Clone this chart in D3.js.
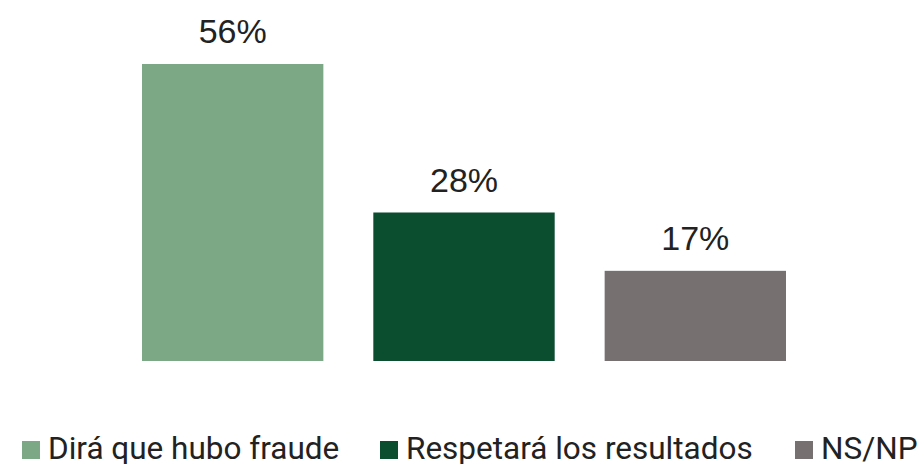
<!DOCTYPE html>
<html>
<head>
<meta charset="utf-8">
<script src="https://cdn.jsdelivr.net/npm/d3@7"></script>
<style>
  body { margin: 0; background: #fff; }
  .label { font-family: "Liberation Sans", Arial, sans-serif; font-size: 34px; fill: #222; }
  .legend text { font-family: Roboto, sans-serif; font-size: 31.5px; fill: #222; }
</style>
</head>
<body>
<svg id="chart"></svg>
<script>
var categories = ["Dirá que hubo fraude", "Respetará los resultados", "NS/NP"]
var values = [56, 28, 17]
var colors = ["#7da886", "#0b4d2f", "#767170"]
var legendX = [22, 380, 795]

var width = 921, height = 464
var svg = d3.select("#chart").attr("width", width).attr("height", height)

var x = d3.scaleBand().domain(categories).range([142, 786]).paddingInner(0.216).paddingOuter(0)
var y = d3.scaleLinear().domain([0, 56]).range([361, 64])

var g = svg.append("g")

g.selectAll(".bar").data(values)
  .enter().append("rect")
  .attr("class", "bar")
  .attr("x", function (d, i) { return x(categories[i]) })
  .attr("y", function (d) { return y(d) })
  .attr("width", x.bandwidth())
  .attr("height", function (d) { return y(0) - y(d) })
  .attr("fill", function (d, i) { return colors[i] })

g.selectAll(".label").data(values)
  .enter().append("text")
  .attr("class", "label")
  .attr("x", function (d, i) { return x(categories[i]) + x.bandwidth() / 2 })
  .attr("y", function (d) { return y(d) - 21 })
  .attr("text-anchor", "middle")
  .text(function (d) { return d + "%" })

var legend = svg.append("g").attr("class", "legend")
var items = legend.selectAll("g").data(categories)
  .enter().append("g")
  .attr("transform", function (d, i) { return "translate(" + legendX[i] + ",0)" })
items.append("rect")
  .attr("x", 0).attr("y", 441).attr("width", 18).attr("height", 18)
  .attr("fill", function (d, i) { return colors[i] })
items.append("text")
  .attr("x", 26).attr("y", 459)
  .text(function (d) { return d })
</script>
</body>
</html>
